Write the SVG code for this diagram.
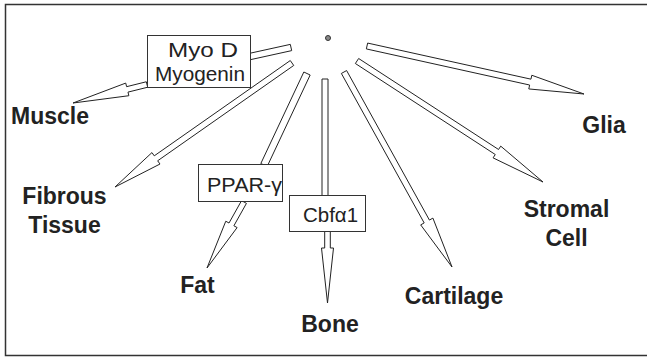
<svg xmlns="http://www.w3.org/2000/svg" width="647" height="358" viewBox="0 0 647 358">
<style>
.arrow{fill:#fff;stroke:#222;stroke-width:1;stroke-linejoin:miter}
.box{fill:#fff;stroke:#333;stroke-width:1}
.lbl{font-family:"Liberation Sans",Arial,sans-serif;font-weight:bold;font-size:23px;fill:#222;text-anchor:middle}
.btxt{font-family:"Liberation Sans",Arial,sans-serif;font-size:20px;fill:#222}
</style>
<rect x="0" y="0" width="647" height="358" fill="#fff"/>
<path d="M647,4.5 H5.5 V355.5 H647" fill="none" stroke="#333" stroke-width="1.5"/>
<g id="connectors">
<polygon class="arrow" points="366.35,48.93 529.65,85.03 528.79,88.94 584,94 531.81,75.26 530.95,79.17 367.65,43.07"/>
<polygon class="arrow" points="355.36,63.51 495.26,154.51 493.08,157.87 543,182 500.72,146.13 498.54,149.49 358.64,58.49"/>
<polygon class="arrow" points="341.38,73.45 424.18,222.95 420.68,224.89 452,267 432.92,218.11 429.42,220.05 346.62,70.55"/>
<polygon class="arrow" points="290.28,60.54 154.24,155.85 151.94,152.58 115,187 159.98,164.04 157.68,160.77 293.72,65.46"/>
<polygon class="arrow" points="290.32,44.38 249.32,53.38 250.68,59.62 291.68,50.62"/>
<polygon class="arrow" points="146.32,81.78 126.62,86.68 125.72,83.09 73,103 128.88,95.71 127.98,92.12 147.68,87.22"/>
<polygon class="arrow" points="303.83,72.01 260.83,163.51 267.17,166.49 310.17,75"/>
<polygon class="arrow" points="241.56,200.63 229.01,223.03 225.78,221.22 207,268 237.12,227.58 233.89,225.77 246.44,203.37"/>
<polygon class="arrow" points="322,79 322,196 328,196 328,79"/>
<polygon class="arrow" points="324.7,231 324.7,248 321.5,248 327.5,303 333.5,248 330.3,248 330.3,231"/>
</g>
<g id="source"><circle cx="328" cy="38" r="2.5" fill="#888" stroke="#333" stroke-width="1"/></g>
<g id="myod"><rect class="box" x="147.5" y="35.5" width="103" height="52"/><text class="btxt" x="203" y="57" text-anchor="middle" textLength="70" lengthAdjust="spacingAndGlyphs">Myo D</text><text class="btxt" x="200" y="81" text-anchor="middle" textLength="90" lengthAdjust="spacingAndGlyphs">Myogenin</text></g>
<g id="ppar"><rect class="box" x="198.5" y="164.5" width="84" height="37"/><text class="btxt" x="207" y="192" textLength="75" lengthAdjust="spacingAndGlyphs">PPAR-γ</text></g>
<g id="cbfa1"><rect class="box" x="289.5" y="195.5" width="76" height="36"/><text class="btxt" x="303" y="222" textLength="55" lengthAdjust="spacingAndGlyphs">Cbfα1</text></g>
<g id="muscle"><text class="lbl" x="50" y="124">Muscle</text></g>
<g id="fibrous"><text class="lbl" x="64.5" y="204">Fibrous</text><text class="lbl" x="64.5" y="233">Tissue</text></g>
<g id="fat"><text class="lbl" x="197.5" y="293">Fat</text></g>
<g id="bone"><text class="lbl" x="330" y="332">Bone</text></g>
<g id="cartilage"><text class="lbl" x="454" y="304">Cartilage</text></g>
<g id="stromal"><text class="lbl" x="566.5" y="217">Stromal</text><text class="lbl" x="566.5" y="246">Cell</text></g>
<g id="glia"><text class="lbl" x="604" y="133">Glia</text></g>
</svg>
